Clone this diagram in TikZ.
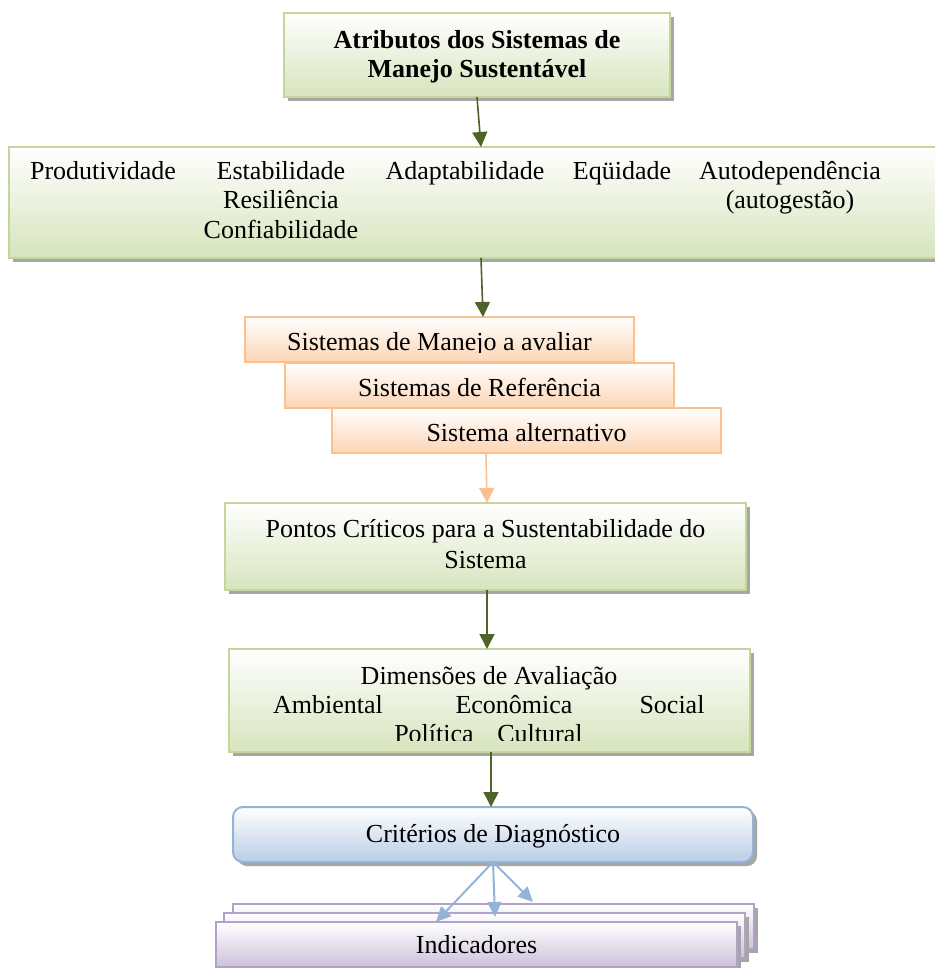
\documentclass[tikz,border=0pt]{standalone}
\usepackage{fontspec}
\setmainfont{Liberation Serif}
\usetikzlibrary{shadows,arrows.meta}

\definecolor{grnline}{HTML}{C3D69B}
\definecolor{grnfill}{HTML}{D7E4BD}
\definecolor{grnarrow}{HTML}{4F6228}
\definecolor{orline}{HTML}{FAC090}
\definecolor{orfill}{HTML}{FCD5B5}
\definecolor{blline}{HTML}{95B3D7}
\definecolor{blfill}{HTML}{B9CDE5}
\definecolor{puline}{HTML}{B3A2C7}
\definecolor{pufill}{HTML}{CCC1DA}
\definecolor{shadecol}{HTML}{A6A6A6}

\tikzset{
  box/.style={draw, line width=2pt, inner sep=0pt, outer sep=0pt, top color=white},
  shad/.style={drop shadow={shadow xshift=4pt, shadow yshift=-4pt, fill=shadecol, opacity=1}},
  gbox/.style={box, shad, draw=grnline, bottom color=grnfill},
  obox/.style={box, draw=orline, bottom color=orfill},
  bbox/.style={box, shad, draw=blline, bottom color=blfill, rounded corners=10pt},
  pbox/.style={box, shad, draw=puline, bottom color=pufill},
  txt/.style={inner sep=0pt, anchor=base, font=\fontsize{26}{30}\selectfont},
  garrow/.style={draw=grnarrow, line width=1.6pt, -{Triangle[length=15pt,width=15pt]}},
  oarrow/.style={draw=orline, line width=1.6pt, -{Triangle[length=15pt,width=15pt]}},
  barrow/.style={draw=blline, line width=2pt, -{Triangle[length=15pt,width=14pt]}}
}

\begin{document}
\begin{tikzpicture}[x=1pt, y=-1pt]
\useasboundingbox (0,0) rectangle (934,968);

% title box
\node[gbox, minimum width=386pt, minimum height=84pt] (box1) at (477,55) {};
\node[txt] (t1a) at (477,49) {\bfseries Atributos dos Sistemas de};
\node[txt] (t1b) at (477,78) {\bfseries Manejo Sustentável};

% attributes box (runs past the right edge)
\node[gbox, minimum width=936pt, minimum height=111pt] (box2) at (477,202.5) {};
\node[txt] (prod) at (103,180) {Produtividade};
\node[txt] (estab) at (281,180) {Estabilidade};
\node[txt] (resil) at (281,209) {Resiliência};
\node[txt] (conf) at (281,239) {Confiabilidade};
\node[txt] (adapt) at (465,180) {Adaptabilidade};
\node[txt] (equi) at (622,180) {Eqüidade};
\node[txt] (autod) at (790,180) {Autodependência};
\node[txt] (autog) at (790,209) {(autogestão)};

% stacked systems
\node[obox, minimum width=389pt, minimum height=45pt] (O1) at (439.5,339.5) {};
\begin{scope}
  \clip (245,317) rectangle (634,352);
  \node[txt] (o1t) at (439.5,350) {Sistemas de Manejo a avaliar};
\end{scope}
\node[obox, minimum width=389pt, minimum height=45pt] (O2) at (479.5,385.5) {};
\node[txt] (o2t) at (479.5,396) {Sistemas de Referência};
\node[obox, minimum width=389pt, minimum height=45pt] (O3) at (526.5,430.5) {};
\node[txt] (o3t) at (526.5,441) {Sistema alternativo};

% critical points
\node[gbox, minimum width=521pt, minimum height=87pt] (box4) at (485.5,546.5) {};
\node[txt] (t4a) at (485.5,537) {Pontos Críticos para a Sustentabilidade do};
\node[txt] (t4b) at (485.5,568) {Sistema};

% evaluation dimensions
\node[gbox, minimum width=521pt, minimum height=103pt] (box5) at (489.5,700.5) {};
\node[txt] (t5a) at (489,684) {Dimensões de Avaliação};
\node[txt] (amb) at (328,713) {Ambiental};
\node[txt] (eco) at (514,713) {Econômica};
\node[txt] (soc) at (672,713) {Social};
\begin{scope}
  \clip (229,649) rectangle (750,740);
  \node[txt] (pol) at (434,742) {Política};
  \node[txt] (cult) at (540,742) {Cultural};
\end{scope}

% diagnostic criteria
\node[bbox, minimum width=520pt, minimum height=55pt] (box6) at (493,834.5) {};
\node[txt] (t6) at (493,842) {Critérios de Diagnóstico};

% indicators (stack of three sheets)
\node[pbox, minimum width=521pt, minimum height=45pt] (ind3) at (493.5,926.5) {};
\node[pbox, minimum width=521pt, minimum height=45pt] (ind2) at (484.5,935.5) {};
\node[pbox, minimum width=521pt, minimum height=45pt] (ind1) at (476.5,944.5) {};
\node[txt] (t7) at (476.5,953) {Indicadores};

% connectors
\draw[garrow] (box1.south) -- ([xshift=4pt]box2.north);
\draw[garrow] ([xshift=4pt]box2.south) -- ([xshift=43.5pt]O1.north);
\draw[oarrow] ([xshift=-40.5pt]O3.south) -- ([xshift=1.5pt]box4.north);
\draw[garrow] ([xshift=1.5pt]box4.south) -- ([xshift=-2.5pt]box5.north);
\draw[garrow] ([xshift=1.5pt]box5.south) -- ([xshift=-2pt]box6.north);
\draw[barrow] (box6.south) -- ([xshift=-40.5pt]ind1.north);
\draw[barrow] (box6.south) -- ([xshift=10.5pt,yshift=-4pt]ind2.north);
\draw[barrow] (box6.south) -- ([xshift=39.5pt,yshift=2pt]ind3.north);
\end{tikzpicture}
\end{document}
